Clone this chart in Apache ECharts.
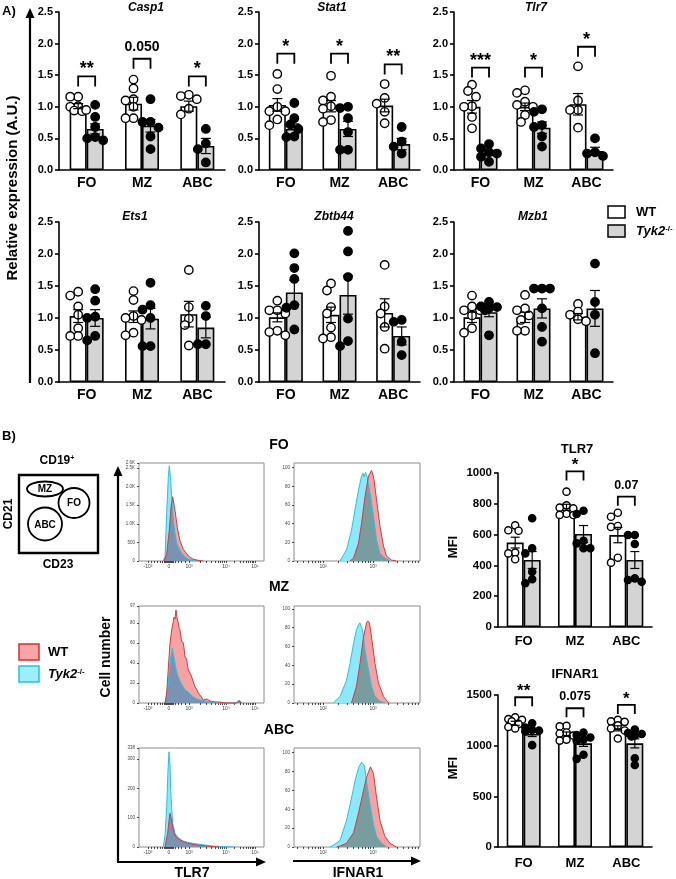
<!DOCTYPE html>
<html>
<head>
<meta charset="utf-8">
<script src="https://cdn.jsdelivr.net/npm/echarts@6.0.0/dist/echarts.min.js"></script>
<style>
html,body{margin:0;padding:0;background:#fff;}
#chart{width:676px;height:879px;}
</style>
</head>
<body>
<div id="chart"></div>
<script>
// ================= DATA =================
const categories = ['FO', 'MZ', 'ABC'];

// ---- Panel A: relative expression (A.U.), per category [WT, Tyk2-/-] ----
const casp1Mean = [[1.01, 0.65], [1.05, 0.70], [1.01, 0.38]];
const casp1Sem  = [[0.04, 0.08], [0.10, 0.10], [0.08, 0.12]];
const casp1WT   = [[1.16, 1.16, 1.01, 1.00, 0.94, 0.93, 0.95], [1.43, 1.29, 1.12, 1.10, 1.00, 0.82, 0.82], [1.19, 1.17, 1.12, 0.97, 0.88]];
const casp1KO   = [[1.03, 0.84, 0.68, 0.52, 0.47, 0.50], [1.12, 0.76, 0.76, 0.67, 0.53, 0.33], [0.65, 0.42, 0.33, 0.12]];
const casp1Sig  = ['**', '0.050', '*'];
const casp1SigY = [1.48, 1.76, 1.48];

const stat1Mean = [[1.03, 0.65], [1.01, 0.65], [1.02, 0.41]];
const stat1Sem  = [[0.10, 0.08], [0.09, 0.12], [0.10, 0.09]];
const stat1WT   = [[1.52, 1.28, 1.00, 0.93, 0.93, 0.80, 0.71], [1.49, 1.16, 1.10, 1.01, 0.97, 0.79, 0.76], [1.36, 1.14, 1.05, 0.92, 0.74]];
const stat1KO   = [[1.06, 0.82, 0.72, 0.65, 0.53, 0.52], [0.98, 1.00, 0.82, 0.60, 0.32, 0.32], [0.68, 0.45, 0.37, 0.26]];
const stat1Sig  = ['*', '*', '**'];
const stat1SigY = [1.84, 1.84, 1.67];

const tlr7Mean = [[1.00, 0.27], [1.00, 0.67], [1.04, 0.30]];
const tlr7Sem  = [[0.10, 0.04], [0.06, 0.09], [0.17, 0.06]];
const tlr7WT   = [[1.35, 1.25, 1.16, 1.01, 1.00, 0.84, 0.66], [1.26, 1.22, 1.08, 1.03, 1.00, 0.87, 0.76], [1.64, 1.10, 0.95, 0.95, 0.67]];
const tlr7KO   = [[0.41, 0.34, 0.28, 0.26, 0.21, 0.13], [0.92, 0.96, 0.71, 0.68, 0.53, 0.37], [0.50, 0.28, 0.26, 0.22]];
const tlr7Sig  = ['***', '*', '*'];
const tlr7SigY = [1.62, 1.62, 1.95];

const ets1Mean = [[1.03, 1.00], [1.02, 0.99], [1.06, 0.85]];
const ets1Sem  = [[0.10, 0.13], [0.09, 0.16], [0.20, 0.16]];
const ets1WT   = [[1.41, 1.35, 1.18, 1.05, 0.84, 0.72, 0.72], [1.42, 1.28, 1.03, 1.00, 0.97, 0.77, 0.73], [1.75, 1.17, 0.99, 0.89, 0.57]];
const ets1KO   = [[1.45, 1.27, 1.02, 1.00, 0.72, 0.65], [1.55, 1.20, 1.13, 1.00, 0.56, 0.56], [1.19, 1.03, 0.59, 0.59]];

const zbtb44Mean = [[1.01, 1.40], [1.05, 1.36], [1.08, 0.72]];
const zbtb44Sem  = [[0.07, 0.19], [0.12, 0.30], [0.22, 0.14]];
const zbtb44WT   = [[1.27, 1.12, 1.12, 1.07, 0.80, 0.78, 0.73], [1.54, 1.43, 1.17, 1.07, 0.85, 0.70, 0.68], [1.83, 1.18, 1.07, 0.86, 0.52]];
const zbtb44KO   = [[2.01, 1.78, 1.61, 1.20, 1.16, 0.82], [2.36, 2.04, 1.64, 0.99, 0.64, 0.56], [0.97, 0.94, 0.63, 0.42]];

const mzb1Mean = [[1.01, 1.09], [1.01, 1.15], [1.02, 1.15]];
const mzb1Sem  = [[0.08, 0.07], [0.08, 0.15], [0.05, 0.28]];
const mzb1WT   = [[1.35, 1.18, 1.12, 1.12, 1.04, 0.84, 0.77], [1.36, 1.15, 1.12, 1.04, 0.97, 0.80, 0.80], [1.22, 1.10, 1.05, 0.98, 0.95]];
const mzb1KO   = [[1.25, 1.18, 1.17, 1.15, 1.12, 0.73], [1.46, 1.46, 1.46, 1.15, 0.86, 0.63], [1.85, 1.25, 1.05, 0.45]];

// ---- Panel B: MFI, per category [WT, Tyk2-/-] ----
const tlr7MfiMean = [[548, 435], [777, 604], [597, 435]];
const tlr7MfiSem  = [[35, 55], [20, 55], [50, 55]];
const tlr7MfiWT   = [[660, 628, 625, 483, 478, 440], [879, 790, 775, 770, 735, 728, 727], [742, 716, 656, 650, 450, 418]];
const tlr7MfiKO   = [[706, 511, 478, 359, 310, 284], [755, 734, 560, 543, 511, 511], [597, 597, 539, 316, 305, 294]];
const tlr7MfiSig  = ['', '*', '0.07'];
const tlr7MfiSigY = [null, 1010, 846];

const ifnar1Mean = [[1221, 1115], [1115, 1023], [1171, 1023]];
const ifnar1Sem  = [[20, 25], [20, 30], [25, 45]];
const ifnar1WT   = [[1280, 1262, 1255, 1240, 1215, 1185, 1170], [1195, 1190, 1130, 1120, 1100, 1060, 1050], [1255, 1240, 1235, 1200, 1170, 1150, 1070]];
const ifnar1KO   = [[1220, 1178, 1155, 1148, 1140, 1005], [1130, 1105, 1080, 1060, 1050, 910, 870], [1160, 1125, 1115, 1100, 1090, 875, 810]];
const ifnar1Sig  = ['**', '0.075', '*'];
const ifnar1SigY = [1478, 1369, 1402];

// ---- Panel B histograms: [channel position, count] ----
// TLR7 (biexponential display channel; ticks -10^3, 0, 10^3, 10^4, 10^5)
const tlr7TickPos = [9, 30, 50, 87, 116];
const tlr7TickLab = ['-10³', '0', '10³', '10⁴', '10⁵'];
const histTlr7FoWT = [[25,0],[27.7,200],[30.3,830],[32,1450],[33.7,1728],[36,1360],[38.3,900],[41,540],[44.3,315],[49.3,135],[54.3,45],[61,10],[64.3,0]];
const histTlr7FoKO = [[24.3,0],[26,116],[27.7,1282],[29.3,2266],[30.3,2554],[31.7,2177],[32.7,1728],[34.3,1102],[36,744],[37.7,475],[42.7,206],[47.7,72],[54.3,10],[61,0]];
const histTlr7MzWT = [[26,0],[27.7,10],[29.3,35],[31,60],[32.7,73],[34,80],[35,86],[36,84],[37,93],[38,85],[39.3,80],[40,75],[41,73],[42.5,62],[44.3,60],[45,55],[46,46],[47.5,44],[49.3,33],[51,30],[52.7,26],[54,22],[56,16],[57.5,14],[59.3,10],[61,8],[64.3,3],[68,4],[71,2],[76,1],[81,1],[86,0],[97,0],[100,2],[103,0]];
const histTlr7MzKO = [[26,0],[27.7,8],[29.3,20],[30.5,35],[31.7,45],[33.3,55],[34,50],[35,46],[36,40],[36.7,36],[38,30],[39.3,26],[41,22],[44.3,16],[46,13],[49.3,11],[51,9],[54.3,6],[58,4],[61,3],[66,2],[71,1],[78,0],[98,0],[100,3],[103,0]];
const histTlr7AbcWT = [[26,0],[27,20],[28.7,47],[30,90],[31,115],[32,100],[33.7,69],[35,50],[37,35],[41,24],[47.7,14],[57.7,7],[71,2],[80,0]];
const histTlr7AbcKO = [[24.3,0],[26,40],[27.7,137],[29,262],[30,325],[31,280],[31.7,194],[32.7,130],[33.7,81],[36,47],[39.3,31],[44.3,20],[51,14],[61,9],[74,3],[94,0]];
// IFNAR1 (log10 fluorescence), % of max
const ifnTickPos = [2, 3];
const ifnTickLab = ['10²', '10³'];
const histIfnFoWT = [[2.54,0],[2.61,3],[2.71,19],[2.77,40],[2.84,69],[2.91,91],[2.94,94],[2.97,97],[3.0,92],[3.02,87],[3.07,66],[3.14,37],[3.21,16],[3.27,5],[3.37,1],[3.47,0]];
const histIfnFoKO = [[2.34,0],[2.47,12],[2.57,33],[2.64,55],[2.71,76],[2.77,91],[2.8,94],[2.82,90],[2.85,95],[2.89,89],[2.94,73],[3.01,48],[3.07,23],[3.14,8],[3.24,3],[3.34,0]];
const histIfnMzWT = [[2.57,0],[2.67,18],[2.74,42],[2.81,70],[2.87,85],[2.9,87],[2.93,85],[2.97,70],[3.04,42],[3.11,21],[3.21,7],[3.31,0]];
const histIfnMzKO = [[2.21,0],[2.34,7],[2.47,24],[2.54,42],[2.61,63],[2.67,78],[2.72,84],[2.74,85],[2.77,80],[2.79,78],[2.84,56],[2.91,35],[2.97,18],[3.04,7],[3.14,2],[3.24,0]];
const histIfnAbcWT = [[2.27,0],[2.34,1],[2.47,4],[2.61,15],[2.71,36],[2.81,60],[2.87,74],[2.95,85],[3.01,78],[3.07,53],[3.14,28],[3.24,11],[3.34,4],[3.47,0]];
const histIfnAbcKO = [[2.14,0],[2.21,2],[2.34,7],[2.47,28],[2.57,52],[2.64,70],[2.71,84],[2.77,90],[2.8,88],[2.83,86],[2.87,70],[2.94,45],[3.01,24],[3.07,11],[3.17,4],[3.27,0]];

// ================= BUILD =================
const FONT = "'Liberation Sans', Arial, Helvetica, sans-serif";
const grids = [], xAxes = [], yAxes = [], series = [], graphics = [];

// compact beeswarm around the bar centre (pixel space)
function swarm(pys, d, step, maxOff) {
  const order = pys.map((y, i) => i).sort((a, b) => pys[a] - pys[b]);
  const placed = [], offs = new Array(pys.length).fill(0);
  const cands = [0];
  for (let k = 1; k * step <= maxOff + 0.01; k++) cands.push(-k * step, k * step);
  order.forEach(i => {
    let best = 0, bestD = -1;
    for (const o of cands) {
      const md = placed.reduce((m, p) => Math.min(m, Math.hypot(p.x - o, p.y - pys[i])), 1e9);
      if (md >= d) { best = o; bestD = 1e9; break; }
      if (md > bestD) { bestD = md; best = o; }
    }
    offs[i] = best; placed.push({ x: best, y: pys[i] });
  });
  return offs;
}

function addBarChart(c) {
  const gi = grids.length;
  grids.push({ left: c.left, top: c.top, width: c.width, height: c.height });
  xAxes.push({
    type: 'category', gridIndex: gi, data: categories,
    axisLine: { lineStyle: { color: '#000', width: 1.6 } },
    axisTick: { alignWithLabel: true, length: 4, lineStyle: { color: '#000', width: 1.6 } },
    axisLabel: { color: '#000', fontFamily: FONT, fontWeight: 'bold', fontSize: c.catSize, margin: c.catMargin }
  });
  yAxes.push({
    type: 'value', gridIndex: gi, min: 0, max: c.max, interval: c.interval,
    axisLine: { show: true, lineStyle: { color: '#000', width: 1.6 } },
    axisTick: { show: true, length: 4, lineStyle: { color: '#000', width: 1.6 } },
    splitLine: { show: false },
    axisLabel: { formatter: c.fmt, color: '#000', fontFamily: FONT, fontWeight: 'bold', fontSize: c.tickSize, margin: 6 }
  });
  const bw = c.barWidth;
  series.push({ type: 'bar', xAxisIndex: gi, yAxisIndex: gi, data: c.mean.map(m => m[0]), barWidth: bw, barGap: '0%', silent: true, z: 2,
    itemStyle: { color: '#fff', borderColor: '#000', borderWidth: 1.6 } });
  series.push({ type: 'bar', xAxisIndex: gi, yAxisIndex: gi, data: c.mean.map(m => m[1]), barWidth: bw, barGap: '0%', silent: true, z: 2,
    itemStyle: { color: '#d4d4d4', borderColor: '#000', borderWidth: 1.6 } });
  const idx = categories.map((k, i) => [i, 0]);
  // points
  series.push({ type: 'custom', xAxisIndex: gi, yAxisIndex: gi, z: 4, silent: true, data: idx,
    renderItem: (params, api) => {
      const ci = params.dataIndex, cx0 = api.coord([ci, 0])[0], children = [];
      [[c.wt[ci], -1, '#fff'], [c.ko[ci], 1, '#000']].forEach(([vals, side, fill]) => {
        const cx = cx0 + side * bw / 2;
        const pys = vals.map(v => api.coord([ci, v])[1]);
        const offs = swarm(pys, 1.75 * c.r, 0.95 * c.r, c.maxOff);
        vals.forEach((v, k) => children.push({ type: 'circle', shape: { cx: cx + offs[k], cy: pys[k], r: c.r },
          style: { fill, stroke: '#000', lineWidth: 1.4 } }));
      });
      return { type: 'group', children };
    } });
  // error bars (mean ± SEM)
  series.push({ type: 'custom', xAxisIndex: gi, yAxisIndex: gi, z: 5, silent: true, data: idx,
    renderItem: (params, api) => {
      const ci = params.dataIndex, cx0 = api.coord([ci, 0])[0], children = [];
      [0, 1].forEach(s => {
        const cx = cx0 + (s ? 1 : -1) * bw / 2, m = c.mean[ci][s], e = c.sem[ci][s];
        const yt = api.coord([ci, m + e])[1], yb = api.coord([ci, m - e])[1];
        const ls = { stroke: '#000', lineWidth: 1.2 };
        children.push({ type: 'line', shape: { x1: cx, y1: yt, x2: cx, y2: yb }, style: ls });
        children.push({ type: 'line', shape: { x1: cx - c.cap, y1: yt, x2: cx + c.cap, y2: yt }, style: ls });
        children.push({ type: 'line', shape: { x1: cx - c.cap, y1: yb, x2: cx + c.cap, y2: yb }, style: ls });
      });
      return { type: 'group', children };
    } });
  // significance brackets
  if (c.sig) {
    series.push({ type: 'custom', xAxisIndex: gi, yAxisIndex: gi, z: 6, silent: true, clip: false,
      data: categories.map((k, i) => [i, c.sigY[i] || 0]),
      renderItem: (params, api) => {
        const ci = params.dataIndex;
        if (!c.sig[ci]) return null;
        const cx0 = api.coord([ci, 0])[0], y = api.coord([ci, c.sigY[ci]])[1];
        const x1 = cx0 - bw / 2, x2 = cx0 + bw / 2;
        const isStar = c.sig[ci].indexOf('*') >= 0;
        return { type: 'group', children: [
          { type: 'polyline', shape: { points: [[x1, y + c.leg], [x1, y], [x2, y], [x2, y + c.leg]] },
            style: { stroke: '#000', lineWidth: 1.8, fill: null } },
          { type: 'text', style: { text: c.sig[ci], x: cx0, y: isStar ? y - c.starOff : y - c.numOff,
            align: 'center', verticalAlign: 'middle', fill: '#000',
            font: 'bold ' + (isStar ? c.starSize : c.numSize) + 'px ' + FONT } }
        ] };
      } });
  }
}

const fmt1 = v => v.toFixed(1);
const baseA = { max: 2.5, interval: 0.5, fmt: fmt1, tickSize: 11, catSize: 14, catMargin: 6, barWidth: 17, r: 4.2, cap: 5, maxOff: 8,
  leg: 10, starOff: 7, numOff: 12, starSize: 18, numSize: 14 };
addBarChart(Object.assign({}, baseA, { left: 59, top: 12, width: 166, height: 158, mean: casp1Mean, sem: casp1Sem, wt: casp1WT, ko: casp1KO, sig: casp1Sig, sigY: casp1SigY }));
addBarChart(Object.assign({}, baseA, { left: 259, top: 12, width: 161, height: 158, mean: stat1Mean, sem: stat1Sem, wt: stat1WT, ko: stat1KO, sig: stat1Sig, sigY: stat1SigY }));
addBarChart(Object.assign({}, baseA, { left: 454, top: 12, width: 159, height: 158, mean: tlr7Mean, sem: tlr7Sem, wt: tlr7WT, ko: tlr7KO, sig: tlr7Sig, sigY: tlr7SigY }));
addBarChart(Object.assign({}, baseA, { left: 59, top: 222, width: 166, height: 160, mean: ets1Mean, sem: ets1Sem, wt: ets1WT, ko: ets1KO }));
addBarChart(Object.assign({}, baseA, { left: 259, top: 222, width: 161, height: 160, mean: zbtb44Mean, sem: zbtb44Sem, wt: zbtb44WT, ko: zbtb44KO }));
addBarChart(Object.assign({}, baseA, { left: 454, top: 222, width: 159, height: 160, mean: mzb1Mean, sem: mzb1Sem, wt: mzb1WT, ko: mzb1KO }));

const baseB = { fmt: v => String(v), tickSize: 11.5, catSize: 13, catMargin: 8, barWidth: 17, r: 3.6, cap: 4.5, maxOff: 7.5,
  leg: 9, starOff: 6, numOff: 11.5, starSize: 17, numSize: 12.5 };
addBarChart(Object.assign({}, baseB, { left: 498, top: 473, width: 154, height: 154, max: 1000, interval: 200, mean: tlr7MfiMean, sem: tlr7MfiSem, wt: tlr7MfiWT, ko: tlr7MfiKO, sig: tlr7MfiSig, sigY: tlr7MfiSigY }));
addBarChart(Object.assign({}, baseB, { left: 498, top: 695, width: 154, height: 152, max: 1500, interval: 500, catMargin: 10, mean: ifnar1Mean, sem: ifnar1Sem, wt: ifnar1WT, ko: ifnar1KO, sig: ifnar1Sig, sigY: ifnar1SigY }));

// ---- histograms ----
function interp(pts, x) {
  if (x <= pts[0][0] || x >= pts[pts.length - 1][0]) return 0;
  for (let i = 1; i < pts.length; i++) {
    if (x <= pts[i][0]) {
      const [x0, y0] = pts[i - 1], [x1, y1] = pts[i];
      return y0 + (y1 - y0) * (x - x0) / (x1 - x0);
    }
  }
  return 0;
}
// overlap region = pointwise minimum of the two curves
function overlapCurve(a, b) {
  const xs = Array.from(new Set(a.map(p => p[0]).concat(b.map(p => p[0])))).sort((p, q) => p - q);
  const out = [];
  for (let i = 0; i < xs.length; i++) {
    const x = xs[i], da = interp(a, x), db = interp(b, x);
    if (i > 0) {
      const xp = xs[i - 1], pa = interp(a, xp), pb = interp(b, xp);
      if ((pa - pb) * (da - db) < 0) {
        const t = (pa - pb) / ((pa - pb) - (da - db));
        const xc = xp + t * (x - xp);
        out.push([xc, interp(a, xc)]);
      }
    }
    out.push([x, Math.min(da, db)]);
  }
  return out;
}
function histSeries(gi, wt, ko, overlapColor) {
  return { type: 'custom', xAxisIndex: gi, yAxisIndex: gi, silent: true, z: 3, data: [[ko[0][0], 0]],
    renderItem: (params, api) => {
      const area = (pts, fill) => {
        const line = pts.map(p => api.coord(p));
        const b0 = api.coord([pts[0][0], 0]), b1 = api.coord([pts[pts.length - 1][0], 0]);
        return { type: 'polygon', shape: { points: [b0].concat(line, [b1]) }, style: { fill } };
      };
      const outline = (pts, stroke) => ({ type: 'polyline', shape: { points: pts.map(p => api.coord(p)) },
        style: { stroke, fill: null, lineWidth: 1 } });
      return { type: 'group', children: [
        area(ko, '#8de9f8'),
        area(wt, '#f6a2a2'),
        area(overlapCurve(wt, ko), overlapColor),
        outline(ko, '#1ec6ea'),
        outline(wt, '#e4333a')
      ] };
    } };
}
const tlr7Minor = [12, 15, 18, 21, 23, 25, 26, 27, 28, 29, 31, 32, 33, 34, 36, 39, 42, 46];
for (let k = 2; k < 10; k++) { tlr7Minor.push(50 + 37 * Math.log10(k)); tlr7Minor.push(87 + 29 * Math.log10(k)); }
const ifnMinor = [];
for (let n = 1; n < 4; n++) for (let k = 2; k < 10; k++) { const v = n + Math.log10(k); if (v > 1.42 && v < 3.94) ifnMinor.push(v); }

function addHist(c) {
  const gi = grids.length;
  grids.push({ left: c.left, top: c.top, width: c.width, height: c.height, show: true, borderColor: '#8c8c8c', borderWidth: 1, backgroundColor: 'transparent' });
  xAxes.push({ type: 'value', gridIndex: gi, min: c.xmin, max: c.xmax,
    axisLine: { show: false }, splitLine: { show: false },
    axisTick: { show: true, length: 2, customValues: c.ticks.concat(c.minor), lineStyle: { color: '#222', width: 0.8 } },
    axisLabel: { show: true, customValues: c.ticks, formatter: v => c.labels[c.ticks.indexOf(v)] || '', fontSize: 5, color: '#444', fontFamily: FONT, margin: 3 } });
  yAxes.push({ type: 'value', gridIndex: gi, min: 0, max: c.ymax, interval: c.yint,
    axisLine: { show: false }, splitLine: { show: false },
    axisTick: { show: true, length: 2, lineStyle: { color: '#222', width: 0.8 } },
    axisLabel: { fontSize: 4.5, color: '#444', fontFamily: FONT, margin: 4, formatter: c.yfmt || (v => String(v)) } });
  series.push(histSeries(gi, c.wt, c.ko, c.ov));
}
const kfmt = v => v === 0 ? '0' : (v >= 1000 ? (v / 1000).toFixed(1) + 'K' : String(v));
const tl = { left: 139, width: 125, xmin: 0, xmax: 125, ticks: tlr7TickPos, labels: tlr7TickLab, minor: tlr7Minor, ov: '#7894b2' };
const ifn = { left: 294, width: 126, xmin: 1.42, xmax: 3.94, ticks: ifnTickPos, labels: ifnTickLab, minor: ifnMinor, yint: 20, ov: '#779d9f' };
addHist(Object.assign({}, tl, { top: 463, height: 98, ymax: 2634, yint: 500, yfmt: kfmt, wt: histTlr7FoWT, ko: histTlr7FoKO }));
addHist(Object.assign({}, tl, { top: 606, height: 97, ymax: 97, yint: 20, wt: histTlr7MzWT, ko: histTlr7MzKO }));
addHist(Object.assign({}, tl, { top: 748, height: 99, ymax: 338, yint: 100, wt: histTlr7AbcWT, ko: histTlr7AbcKO }));
addHist(Object.assign({}, ifn, { top: 463, height: 98, ymax: 105, wt: histIfnFoWT, ko: histIfnFoKO }));
addHist(Object.assign({}, ifn, { top: 606, height: 97, ymax: 103, wt: histIfnMzWT, ko: histIfnMzKO }));
addHist(Object.assign({}, ifn, { top: 748, height: 99, ymax: 105, wt: histIfnAbcWT, ko: histIfnAbcKO }));

// ---- graphics (labels, arrows, gate diagram, legends) ----
function txt(x, y, text, size, o) {
  o = o || {};
  const el = { type: 'text', x, y, silent: true, z: 10,
    style: { text, fill: '#000', font: (o.italic ? 'italic ' : '') + 'bold ' + size + 'px ' + FONT, align: o.align || 'center', verticalAlign: 'middle' } };
  if (o.rot) el.rotation = o.rot;
  return el;
}
function arrow(x1, y1, x2, y2) {
  const ang = Math.atan2(y2 - y1, x2 - x1), L = 10, W = 4.5;
  const bx = x2 - L * Math.cos(ang), by = y2 - L * Math.sin(ang);
  const px = -Math.sin(ang) * W, py = Math.cos(ang) * W;
  return [
    { type: 'line', silent: true, shape: { x1, y1, x2: bx, y2: by }, style: { stroke: '#000', lineWidth: 2.2 } },
    { type: 'polygon', silent: true, shape: { points: [[bx + px, by + py], [bx - px, by - py], [x2, y2]] }, style: { fill: '#000' } }
  ];
}
const sup = (main, s, size, italic) => ({
  text: '{a|' + main + '}{b|' + s + '}',
  rich: {
    a: { fontFamily: FONT, fontWeight: 'bold', fontStyle: italic ? 'italic' : 'normal', fontSize: size, fill: '#000' },
    b: { fontFamily: FONT, fontWeight: 'bold', fontStyle: 'normal', fontSize: size * 0.6, fill: '#000', verticalAlign: 'top' }
  }
});

// Panel A labels
graphics.push(txt(2, 11, 'A)', 13, { align: 'left' }));
graphics.push(...arrow(30, 383, 30, 8));
graphics.push(txt(13, 188, 'Relative expression (A.U.)', 15, { rot: Math.PI / 2 }));
[['Casp1', 146, 8], ['Stat1', 332, 8], ['Tlr7', 536, 8], ['Ets1', 135, 217], ['Zbtb44', 334, 217], ['Mzb1', 533, 217]]
  .forEach(([t, x, y]) => graphics.push(txt(x, y, t, 12, { italic: true })));
// Legend A
graphics.push({ type: 'rect', silent: true, shape: { x: 608, y: 206, width: 17, height: 12 }, style: { fill: '#fff', stroke: '#000', lineWidth: 1.5 } });
graphics.push({ type: 'rect', silent: true, shape: { x: 608, y: 225, width: 17, height: 12 }, style: { fill: '#d4d4d4', stroke: '#000', lineWidth: 1.5 } });
graphics.push(txt(636, 212, 'WT', 13, { align: 'left' }));
graphics.push({ type: 'text', x: 636, y: 231, silent: true, style: Object.assign(sup('Tyk2', '-/-', 13, true), { align: 'left', verticalAlign: 'middle' }) });

// Panel B left: gate diagram
graphics.push(txt(2, 436, 'B)', 13, { align: 'left' }));
graphics.push({ type: 'text', x: 57, y: 461, silent: true, style: Object.assign(sup('CD19', '+', 12, false), { align: 'center', verticalAlign: 'middle' }) });
graphics.push({ type: 'rect', silent: true, shape: { x: 19, y: 475, width: 79, height: 78 }, style: { fill: null, stroke: '#000', lineWidth: 2.4 } });
graphics.push({ type: 'ellipse', silent: true, shape: { cx: 45, cy: 489, rx: 18, ry: 7.5 }, style: { fill: null, stroke: '#000', lineWidth: 1.8 } });
graphics.push({ type: 'ellipse', silent: true, shape: { cx: 74, cy: 503, rx: 15.5, ry: 15 }, style: { fill: '#fff', stroke: '#000', lineWidth: 1.8 } });
graphics.push({ type: 'ellipse', silent: true, shape: { cx: 45, cy: 524, rx: 17, ry: 16.5 }, style: { fill: null, stroke: '#000', lineWidth: 1.8 } });
graphics.push(txt(45, 489, 'MZ', 10));
graphics.push(txt(74, 503, 'FO', 10));
graphics.push(txt(45, 525, 'ABC', 10));
graphics.push(txt(9, 514, 'CD21', 12, { rot: Math.PI / 2 }));
graphics.push(txt(58, 565, 'CD23', 12));
// Legend B
graphics.push({ type: 'rect', silent: true, shape: { x: 19, y: 644, width: 20, height: 16 }, style: { fill: '#f6a6a6', stroke: '#e02a2a', lineWidth: 1.5 } });
graphics.push({ type: 'rect', silent: true, shape: { x: 19, y: 666, width: 20, height: 16 }, style: { fill: '#9ceef8', stroke: '#22c2e6', lineWidth: 1.5 } });
graphics.push(txt(48, 652, 'WT', 13, { align: 'left' }));
graphics.push({ type: 'text', x: 48, y: 674, silent: true, style: Object.assign(sup('Tyk2', '-/-', 13, true), { align: 'left', verticalAlign: 'middle' }) });
// Histogram frame labels
graphics.push(txt(279, 445, 'FO', 14));
graphics.push(txt(279, 587, 'MZ', 14));
graphics.push(txt(279, 730, 'ABC', 14));
graphics.push(...arrow(118, 862, 118, 466));
graphics.push(...arrow(117, 862, 266, 862));
graphics.push(...arrow(293, 861, 421, 861));
graphics.push(txt(106, 657, 'Cell number', 14, { rot: Math.PI / 2 }));
graphics.push(txt(192, 873, 'TLR7', 14));
graphics.push(txt(358, 873, 'IFNAR1', 14));
// Right bar chart titles
graphics.push(txt(577, 449, 'TLR7', 13));
graphics.push(txt(575, 674, 'IFNAR1', 13));
graphics.push(txt(453, 547, 'MFI', 13, { rot: Math.PI / 2 }));
graphics.push(txt(453, 768, 'MFI', 13, { rot: Math.PI / 2 }));

const chart = echarts.init(document.getElementById('chart'), null, { renderer: 'canvas' });
chart.setOption({ animation: false, backgroundColor: '#fff', grid: grids, xAxis: xAxes, yAxis: yAxes, series, graphic: { elements: graphics } });
</script>
</body>
</html>
